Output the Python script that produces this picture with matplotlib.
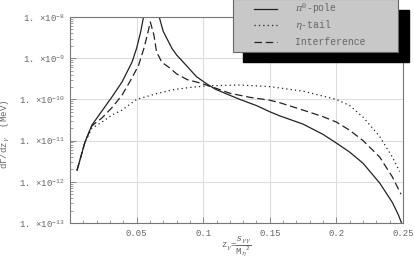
import numpy as np
import matplotlib
matplotlib.use("Agg")
import matplotlib.pyplot as plt
from matplotlib.lines import Line2D
from matplotlib.patches import Rectangle
from matplotlib.ticker import FixedLocator, LogLocator, NullFormatter, FuncFormatter

plt.rcParams['font.family'] = ['Liberation Mono', 'DejaVu Sans Mono']
plt.rcParams['mathtext.fontset'] = 'custom'
plt.rcParams['mathtext.rm'] = 'Liberation Mono'
plt.rcParams['mathtext.it'] = 'DejaVu Serif:italic'
plt.rcParams['mathtext.bf'] = 'Liberation Mono:bold'

# pi0-pole, two branches around the pole (log10 of dGamma/dz)
pole_x1 = [0.0053, 0.0085, 0.0113, 0.0165, 0.024, 0.0315, 0.039, 0.0465, 0.05, 0.053, 0.0555, 0.057]
pole_l1 = [-11.72, -11.35, -11.03, -10.62, -10.28, -9.94, -9.58, -9.10, -8.76, -8.37, -7.95, -7.70]
pole_x2 = [0.0665, 0.067, 0.07, 0.0765, 0.08, 0.088, 0.095, 0.103, 0.109, 0.12, 0.1275,
           0.14, 0.15, 0.1575, 0.175, 0.19, 0.2, 0.21, 0.22, 0.2325, 0.242, 0.2465, 0.2495]
pole_l2 = [-7.80, -8.00, -8.35, -8.76, -8.92, -9.20, -9.45, -9.63, -9.75, -9.90, -10.00,
           -10.15, -10.30, -10.40, -10.60, -10.85, -11.06, -11.28, -11.55, -12.03, -12.50, -12.80, -13.05]

# eta-tail
tail_x = [0.0053, 0.0085, 0.0113, 0.0165, 0.024, 0.0315, 0.039, 0.05, 0.065, 0.0765, 0.09,
          0.103, 0.1275, 0.15, 0.175, 0.2, 0.21, 0.22, 0.2325, 0.242, 0.2475]
tail_l = [-11.72, -11.35, -11.03, -10.70, -10.55, -10.38, -10.26, -10.00, -9.86, -9.77, -9.71,
          -9.67, -9.65, -9.69, -9.80, -10.00, -10.15, -10.43, -10.90, -11.40, -11.75]

# interference
intf_x = [0.0053, 0.0085, 0.0113, 0.0165, 0.024, 0.0315, 0.039, 0.0465, 0.0515, 0.0555,
          0.058, 0.0603, 0.063, 0.065, 0.069, 0.075, 0.08, 0.088, 0.0975, 0.107,
          0.12, 0.135, 0.15, 0.1575, 0.175, 0.19, 0.2, 0.21, 0.22, 0.2325, 0.242, 0.2485]
intf_l = [-11.72, -11.35, -11.03, -10.64, -10.45, -10.20, -9.90, -9.48, -9.17, -8.76,
          -8.44, -8.12, -8.44, -8.85, -9.10, -9.24, -9.38, -9.52, -9.60, -9.70,
          -9.85, -9.95, -10.02, -10.08, -10.26, -10.42, -10.55, -10.75, -11.00, -11.40, -11.88, -12.30]

x_ticks = [0.05, 0.1, 0.15, 0.2, 0.25]
x_labels = ['0.05', '0.1', '0.15', '0.2', '0.25']
legend_labels = [r'$\pi^0$-pole', r'$\eta$-tail', 'Interference']

txt = '#666666'
fig = plt.figure(figsize=(4.15, 2.61), dpi=100)
ax = fig.add_axes([70/415, 1-223/261, 333/415, 206/261])

lc = '#222222'
ax.plot(pole_x1, np.power(10.0, pole_l1), color=lc, lw=0.9)
ax.plot(pole_x2, np.power(10.0, pole_l2), color=lc, lw=0.9)
ax.plot(tail_x, np.power(10.0, tail_l), color=lc, lw=0.9, ls=(0, (1, 2.5)))
ax.plot(intf_x, np.power(10.0, intf_l), color=lc, lw=0.9, ls=(0, (6, 3)))

ax.set_yscale('log')
ax.set_xlim(0, 0.25)
ax.set_ylim(1e-13, 1e-8)

ax.xaxis.set_major_locator(FixedLocator(x_ticks))
ax.set_xticklabels(x_labels)
ax.xaxis.set_minor_locator(FixedLocator(np.arange(0.01, 0.25, 0.01)))
ax.yaxis.set_major_locator(LogLocator(base=10, numticks=10))
ax.yaxis.set_minor_locator(LogLocator(base=10, subs=np.arange(2, 10), numticks=10))
ax.yaxis.set_minor_formatter(NullFormatter())
ax.yaxis.set_major_formatter(FuncFormatter(lambda v, p: r'1. $\times$10$^{%d}$' % round(np.log10(v))))

ax.tick_params(which='both', direction='in', colors='#777777', labelcolor=txt, labelsize=6.5)
ax.tick_params(which='major', length=4, width=0.6)
ax.tick_params(which='minor', length=2, width=0.5)
ax.tick_params(axis='x', pad=4)
ax.tick_params(axis='y', pad=4)
ax.grid(True, which='major', color='#dddddd', lw=0.8)
ax.set_axisbelow(True)
for s in ax.spines.values():
    s.set_color('#777777')
    s.set_linewidth(0.8)

ax.set_ylabel(r'd$\Gamma$/dz$_\gamma$  (MeV)', color=txt, fontsize=6.5)
ax.yaxis.set_label_coords(-58/333, 0.43)
ax.set_xlabel(r'z$_\gamma$=$\dfrac{s_{\gamma\gamma}}{\mathrm{M}_\eta{}^2}$', color=txt, fontsize=6.5)
ax.xaxis.set_label_coords(0.5, -0.055)
ax.xaxis.label.set_va('top')

# legend box with black drop shadow
fig.patches.append(Rectangle((243/415, 1-62/261), 166/415, 52/261, transform=fig.transFigure,
                             facecolor='black', edgecolor='black', zorder=5))
fig.patches.append(Rectangle((233/415, 1-52/261), 165/415, 53/261, transform=fig.transFigure,
                             facecolor='#c8c8c8', edgecolor='#666666', lw=0.8, zorder=6))
row_y = [9, 25, 42]
styles = ['-', (0, (1, 2.5)), (0, (6, 3))]
for yy, st, lab in zip(row_y, styles, legend_labels):
    fy = 1 - yy/261
    fig.lines.append(Line2D([254/415, 277/415], [fy, fy], transform=fig.transFigure,
                            color=lc, lw=0.9, ls=st, zorder=7))
    fig.text(295/415, fy, lab, color=txt, fontsize=7, va='center', ha='left', zorder=8)

fig.savefig('out.png', dpi=100)
